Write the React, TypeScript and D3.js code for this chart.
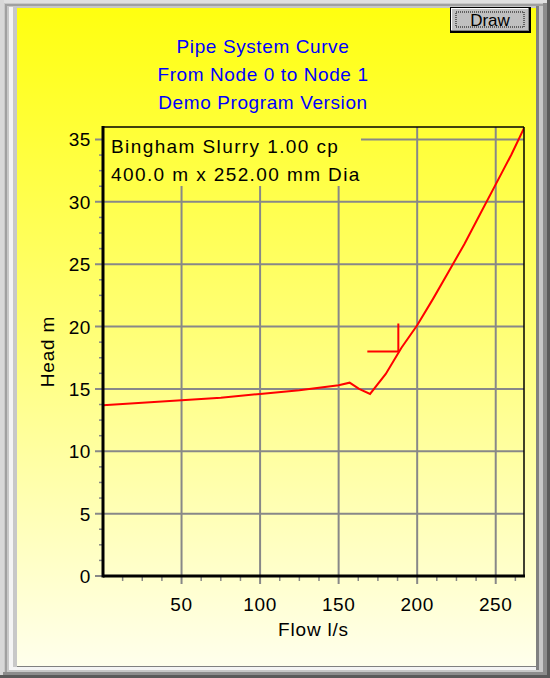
import React from "react";
import * as d3 from "d3";

const titleLines = ["Pipe System Curve", "From Node 0 to Node 1", "Demo Program Version"];
const legendLines = ["Bingham Slurry 1.00 cp", "400.0 m x 252.00 mm Dia"];
const flow = [0, 25, 50, 75, 100, 125, 150, 157, 163, 170, 180, 190, 200, 210, 220, 230, 240, 250, 260, 268];
const head = [13.7, 13.9, 14.1, 14.3, 14.6, 14.9, 15.3, 15.5, 15.0, 14.6, 16.2, 18.3, 20.1, 22.2, 24.4, 26.6, 29.0, 31.4, 33.8, 35.9];
const operatingPoint = { flow: 188, head: 18.0 };
const xTicks = [50, 100, 150, 200, 250];
const yTicks = [0, 5, 10, 15, 20, 25, 30, 35];
const xLabel = "Flow l/s";
const yLabel = "Head m";

const W = 550, H = 678;
const m = { left: 103, right: 524, top: 127, bottom: 576 };
const font = "'Liberation Sans', Arial, sans-serif";

export default function App() {
  const x = d3.scaleLinear().domain([0, 268]).range([m.left, m.right]);
  const y = d3.scaleLinear().domain([0, 36]).range([m.bottom, m.top]);
  const pts = flow.map((f, i) => [f, head[i]] as [number, number]);
  const line = d3.line<[number, number]>().x(d => x(d[0])).y(d => y(d[1]));
  const xMinor = d3.range(0, 268, 12.5).filter(v => v % 50 !== 0);
  const yMinor = d3.range(0, 36, 1.25).filter(v => v % 5 !== 0);
  const ox = x(operatingPoint.flow), oy = y(operatingPoint.head);
  const grid = "#888888";

  return (
    <svg width={W} height={H} style={{ position: "absolute", left: 0, top: 0 }} fontFamily={font}>
      <defs>
        <linearGradient id="bg" gradientUnits="userSpaceOnUse" x1="0" y1="8" x2="0" y2="666">
          <stop offset="0" stopColor="#ffff10" />
          <stop offset="0.5" stopColor="#ffff78" />
          <stop offset="1" stopColor="#ffffec" />
        </linearGradient>
        <clipPath id="clip"><rect x={m.left} y={m.top} width={m.right - m.left} height={m.bottom - m.top} /></clipPath>
      </defs>
      {/* frame */}
      <rect x={0} y={0} width={W} height={H} fill="#c8c8c8" />
      <rect x={0} y={0} width={W} height={3} fill="#e0e0e0" />
      <rect x={0} y={0} width={4} height={H} fill="#d8d8d8" />
      <rect x={5} y={4} width={2} height={H - 8} fill="#a0a0a0" />
      <rect x={5} y={4} width={W - 10} height={2} fill="#a0a0a0" />
      <rect x={9} y={7} width={4} height={663} fill="#f4f4f4" />
      <rect x={9} y={667} width={530} height={3} fill="#f4f4f4" />
      <rect x={536} y={6} width={3} height={664} fill="#808080" />
      <rect x={17} y={666} width={522} height={1} fill="#808080" />
      <rect x={543} y={3} width={4} height={H - 3} fill="#8c8c8c" />
      <rect x={3} y={672} width={W - 3} height={3} fill="#8c8c8c" />
      <rect x={547} y={0} width={3} height={H} fill="#5a5a5a" />
      <rect x={0} y={675} width={W} height={3} fill="#5a5a5a" />
      <rect x={17} y={8} width={519} height={658} fill="url(#bg)" />

      {/* Draw button */}
      <rect x={450} y={7} width={81} height={26} fill="#000" />
      <rect x={451} y={8} width={78} height={23} fill="#808080" />
      <rect x={451} y={8} width={77} height={22} fill="#ffffff" />
      <rect x={452} y={9} width={76} height={21} fill="#c0c0c0" />
      <rect x={456} y={12} width={68} height={15} fill="none" stroke="#000" strokeWidth={1} strokeDasharray="1,1" />
      <text x={490} y={26} textAnchor="middle" fontSize={17} fill="#000">Draw</text>

      {/* titles */}
      {titleLines.map((t, i) => (
        <text key={i} x={263} y={53 + i * 28} textAnchor="middle" fontSize={19} letterSpacing={0.6} fill="#0000ff">{t}</text>
      ))}

      {/* grid */}
      <g stroke={grid} strokeWidth={2}>
        {xTicks.map(v => <line key={"gx" + v} x1={x(v)} x2={x(v)} y1={m.top} y2={m.bottom + 8} />)}
        {yTicks.filter(v => v > 0).map(v => <line key={"gy" + v} x1={m.left - 8} x2={m.right} y1={y(v)} y2={y(v)} />)}
        <line x1={m.left - 8} x2={m.left} y1={y(0)} y2={y(0)} />
      </g>
      <g stroke={grid} strokeWidth={1.5}>
        {xMinor.map(v => <line key={"mx" + v} x1={x(v)} x2={x(v)} y1={m.bottom} y2={m.bottom + 5} />)}
        {yMinor.map(v => <line key={"my" + v} x1={m.left - 4} x2={m.left} y1={y(v)} y2={y(v)} />)}
      </g>

      {/* legend box */}
      <rect x={m.left} y={m.top} width={258} height={59} fill="url(#bg)" />
      {legendLines.map((t, i) => (
        <text key={i} x={111} y={153 + i * 28} fontSize={19} letterSpacing={1.4} fill="#000">{t}</text>
      ))}

      {/* curve */}
      <g clipPath="url(#clip)">
        <path d={line(pts) || ""} fill="none" stroke="#ff0000" strokeWidth={2} />
      </g>
      <line x1={ox - 31} x2={ox} y1={oy} y2={oy} stroke="#ff0000" strokeWidth={2} />
      <line x1={ox} x2={ox} y1={oy - 28} y2={oy} stroke="#ff0000" strokeWidth={2} />

      {/* plot border */}
      <line x1={m.left} x2={m.right} y1={m.top} y2={m.top} stroke="#000" strokeWidth={1.5} />
      <line x1={m.right} x2={m.right} y1={m.top} y2={m.bottom} stroke="#000" strokeWidth={1.5} />
      <line x1={m.left} x2={m.left} y1={m.top - 1} y2={m.bottom + 1.5} stroke="#000" strokeWidth={3} />
      <line x1={m.left} x2={m.right + 1} y1={m.bottom} y2={m.bottom} stroke="#000" strokeWidth={3} />

      {/* tick labels */}
      {xTicks.map(v => (
        <text key={"tx" + v} x={x(v)} y={611} textAnchor="middle" fontSize={19} letterSpacing={0.6} fill="#000">{v}</text>
      ))}
      {yTicks.map(v => (
        <text key={"ty" + v} x={91} y={y(v) + 7} textAnchor="end" fontSize={19} letterSpacing={0.6} fill="#000">{v}</text>
      ))}
      <text x={(m.left + m.right) / 2} y={636} textAnchor="middle" fontSize={19} letterSpacing={0.8} fill="#000">{xLabel}</text>
      <text transform={`translate(54,${(m.top + m.bottom) / 2}) rotate(-90)`} textAnchor="middle" fontSize={19} letterSpacing={0.8} fill="#000">{yLabel}</text>
    </svg>
  );
}
